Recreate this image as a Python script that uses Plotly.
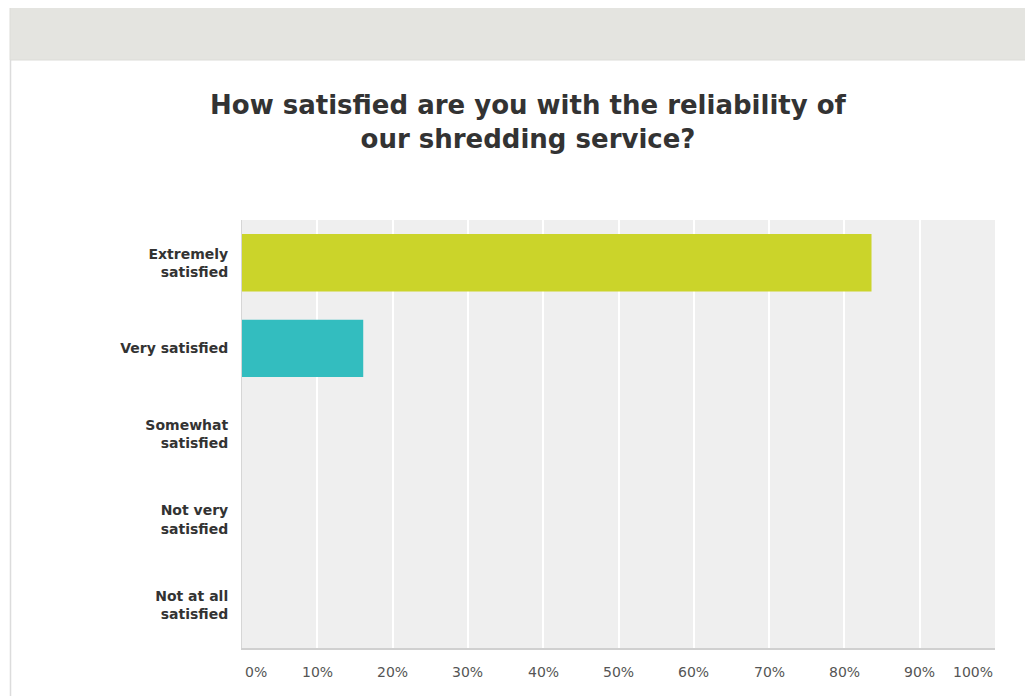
import plotly.graph_objects as go

# Survey answers, top to bottom
categories = ["Extremely<br>satisfied", "Very satisfied", "Somewhat<br>satisfied",
              "Not very<br>satisfied", "Not at all<br>satisfied"]
percent = [83.6, 16.1, 0, 0, 0]
bar_colors = ["#cbd42a", "#33bdbf", "#cbd42a", "#cbd42a", "#cbd42a"]

tick_vals = [0, 10, 20, 30, 40, 50, 60, 70, 80, 90, 100]
tick_text = ["0%", "10%", "20%", "30%", "40%", "50%", "60%", "70%", "80%", "90%", "100%"]

# page body adds an 8px margin, so the figure is a bit smaller than the window
OFF = 8
W, H = 1033 - OFF, 696 - OFF
L, R, T, B = 242 - OFF, 38, 220 - OFF, 48
pw, ph = W - L - R, H - T - B


def px_x(x):
    # screen pixel -> paper x
    return (x - OFF - L) / pw


def px_y(y):
    # screen pixel -> paper y
    return (H - B - (y - OFF)) / ph


fig = go.Figure()

fig.add_trace(
    go.Bar(
        x=percent,
        y=categories,
        orientation="h",
        marker=dict(color=bar_colors, line=dict(width=0)),
        width=0.67,
        hoverinfo="x+y",
    )
)

# grey header band and panel border
fig.add_shape(type="rect", xref="paper", yref="paper",
              x0=px_x(10), x1=px_x(1050), y0=px_y(60), y1=px_y(7),
              fillcolor="#e4e4e0", line=dict(color="#dcdcd8", width=1), layer="below")
fig.add_shape(type="line", xref="paper", yref="paper",
              x0=px_x(10.5), x1=px_x(10.5), y0=px_y(710), y1=px_y(60),
              line=dict(color="#dcdcdc", width=1.5))

# x tick labels: first left-aligned, last right-aligned, others centred
for i, (v, t) in enumerate(zip(tick_vals, tick_text)):
    anchor = "left" if i == 0 else ("right" if i == len(tick_vals) - 1 else "center")
    fig.add_annotation(
        x=v, y=px_y(672), xref="x", yref="paper",
        text=t, showarrow=False, xanchor=anchor, yanchor="middle",
        xshift=1 if i == 0 else 0,
        font=dict(size=14, color="#555555", family="DejaVu Sans, sans-serif"),
    )

fig.update_layout(
    width=W,
    height=H,
    margin=dict(l=L, r=R, t=T, b=B),
    paper_bgcolor="white",
    plot_bgcolor="#efefef",
    showlegend=False,
    bargap=0.33,
    font=dict(family="DejaVu Sans, Arial, sans-serif", color="#333333"),
    title=dict(
        text="<b>How satisfied are you with the reliability of<br>our shredding service?</b>",
        xref="container", x=(528 - OFF) / W, xanchor="center",
        yref="container", y=1 - (114 - OFF) / H, yanchor="middle",
        font=dict(size=26, color="#333333"),
    ),
    xaxis=dict(
        range=[0, 100],
        tickmode="array",
        tickvals=tick_vals,
        showticklabels=False,
        showgrid=True,
        gridcolor="white",
        gridwidth=2,
        zeroline=False,
        showline=True,
        linecolor="#d0d0d0",
        linewidth=2,
        fixedrange=True,
    ),
    yaxis=dict(
        autorange="reversed",
        showgrid=False,
        showline=True,
        linecolor="#d6d6d6",
        linewidth=1,
        ticks="outside",
        ticklen=10,
        tickcolor="rgba(0,0,0,0)",
        tickfont=dict(size=14, color="#333333", weight="bold"),
        fixedrange=True,
    ),
)

fig.write_html("out.html")
